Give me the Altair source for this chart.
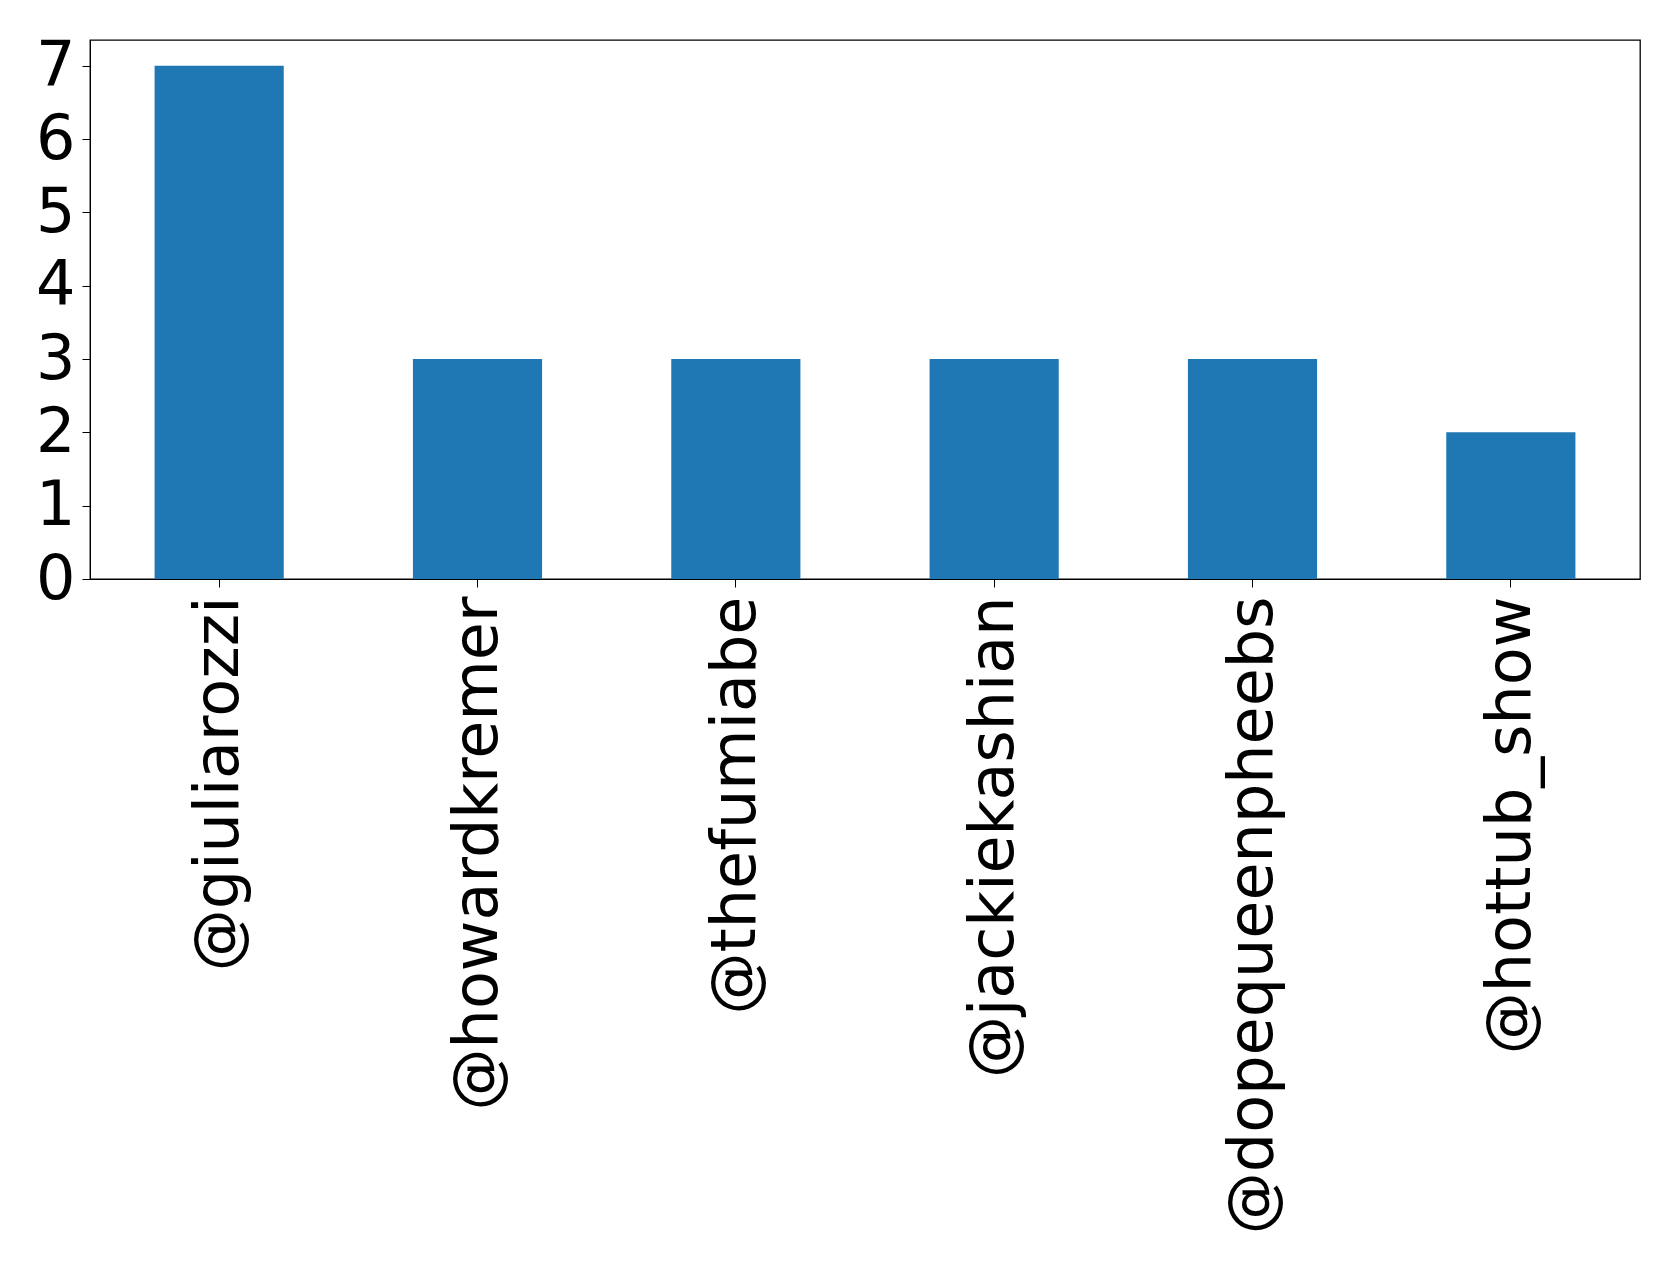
import altair as alt
import pandas as pd

handles = ["@giuliarozzi", "@howardkremer", "@thefumiabe", "@jackiekashian", "@dopequeenpheebs", "@hottub_show"]
counts = [7, 3, 3, 3, 3, 2]
y_ticks = [0, 1, 2, 3, 4, 5, 6, 7]

df = pd.DataFrame({"handle": handles, "count": counts})

FONT = "DejaVu Sans"
FS = 62

chart = alt.Chart(df).mark_bar(color="#1f77b4").encode(
    x=alt.X(
        "handle:N",
        sort=handles,
        title=None,
        scale=alt.Scale(paddingInner=0.5, paddingOuter=0.25),
        axis=alt.Axis(
            labelAngle=270,
            labelAlign="right",
            labelBaseline="middle",
            labelFont=FONT,
            labelFontSize=FS,
            labelColor="black",
            labelPadding=9,
            tickSize=8,
            tickColor="black",
            domainColor="black",
            labelLimit=0,
            grid=False,
        ),
    ),
    y=alt.Y(
        "count:Q",
        title=None,
        scale=alt.Scale(domain=[0, 7.35], nice=False, zero=True),
        axis=alt.Axis(
            values=y_ticks,
            format="d",
            labelFont=FONT,
            labelFontSize=FS,
            labelColor="black",
            labelPadding=7,
            tickSize=8,
            tickColor="black",
            domainColor="black",
            grid=False,
        ),
    ),
).properties(
    width=1550,
    height=539,
    background="white",
    autosize=alt.AutoSizeParams(type="none"),
    padding={"left": 82, "top": 32, "right": 30, "bottom": 660},
).configure_view(
    stroke="black",
    strokeWidth=1.3,
)

chart.save("out.html", embed_options={"renderer": "svg", "actions": False})
